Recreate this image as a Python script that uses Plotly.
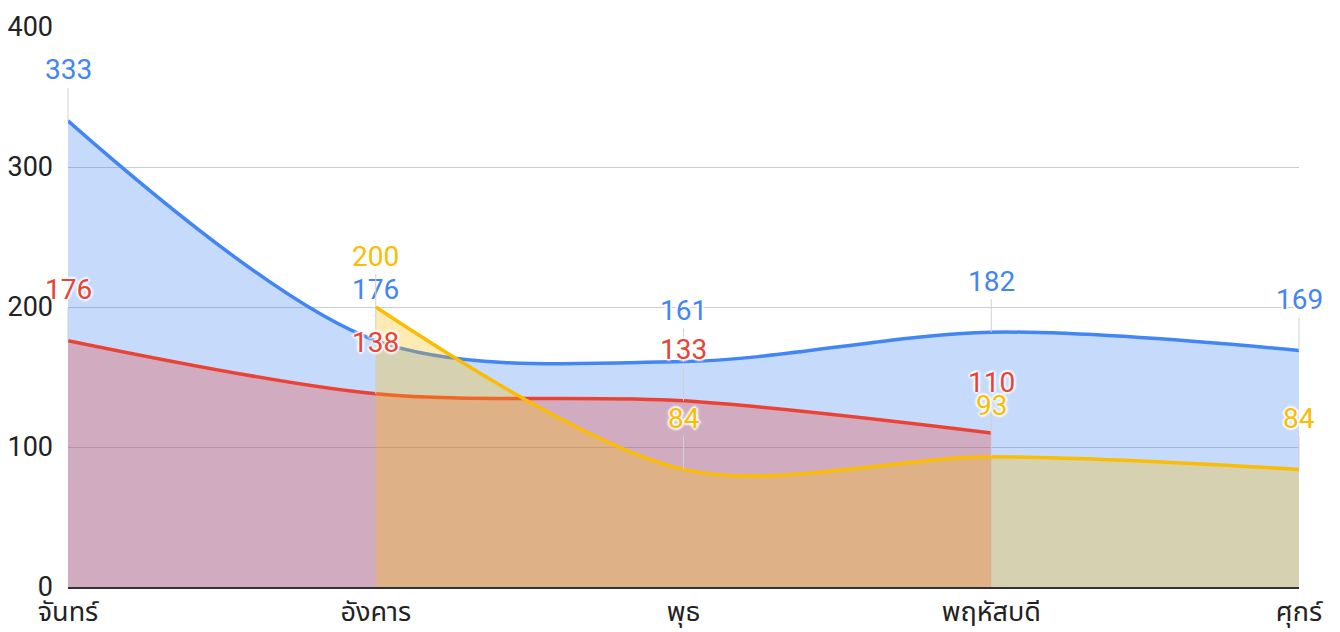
import plotly.graph_objects as go

categories = ["จันทร์", "อังคาร", "พุธ", "พฤหัสบดี", "ศุกร์"]
blue_vals = [333, 176, 161, 182, 169]
red_vals = [176, 138, 133, 110, None]
yellow_vals = [None, 200, 84, 93, 84]

series = [
    ("blue", blue_vals, "#4285F4", "rgba(66,133,244,0.3)"),
    ("red", red_vals, "#EA4335", "rgba(234,67,53,0.3)"),
    ("yellow", yellow_vals, "#FBBC04", "rgba(251,188,4,0.3)"),
]

FONT = "Roboto, 'Noto Sans', 'Noto Sans Thai', 'DejaVu Sans', sans-serif"
HALO = "2px 0 2px #fff, -2px 0 2px #fff, 0 2px 2px #fff, 0 -2px 2px #fff"

fig = go.Figure()
annotations = []
for name, vals, color, fillc in series:
    xs = [i for i, v in enumerate(vals) if v is not None]
    ys = [v for v in vals if v is not None]
    fig.add_trace(go.Scatter(
        x=xs, y=ys, mode="lines", name=name,
        line=dict(color=color, width=3.5, shape="spline", smoothing=0.9),
        fill="tozeroy", fillcolor=fillc, hoverinfo="skip",
    ))
    for x, y in zip(xs, ys):
        annotations.append(dict(
            x=x, y=y, xref="x", yref="y", text=str(y),
            showarrow=True, arrowhead=0, arrowwidth=1, arrowcolor="#d0d0d0",
            ax=0, ay=-51, standoff=0, startstandoff=0,
            font=dict(family=FONT, size=28, color=color, shadow=HALO),
        ))

fig.update_layout(
    width=1332, height=624,
    margin=dict(l=60, r=41, t=19, b=45, autoexpand=False),
    paper_bgcolor="white", plot_bgcolor="white",
    showlegend=False,
    annotations=annotations,
    font=dict(family=FONT, size=27, color="#222222"),
)
fig.update_xaxes(
    type="linear", range=[0, 4], tickvals=list(range(len(categories))),
    ticktext=categories, showgrid=False, zeroline=False, automargin=False,
    showline=True, linecolor="#333333", linewidth=2,
    ticks="", tickfont=dict(size=27, color="#222222"), fixedrange=True,
)
fig.update_yaxes(
    range=[0, 400], dtick=100, showgrid=True, gridcolor="#cccccc", gridwidth=1,
    zeroline=False, showline=False, ticks="", ticklabelstandoff=14, automargin=False,
    tickfont=dict(size=27, color="#222222"), fixedrange=True,
)

fig.write_html("out.html")
